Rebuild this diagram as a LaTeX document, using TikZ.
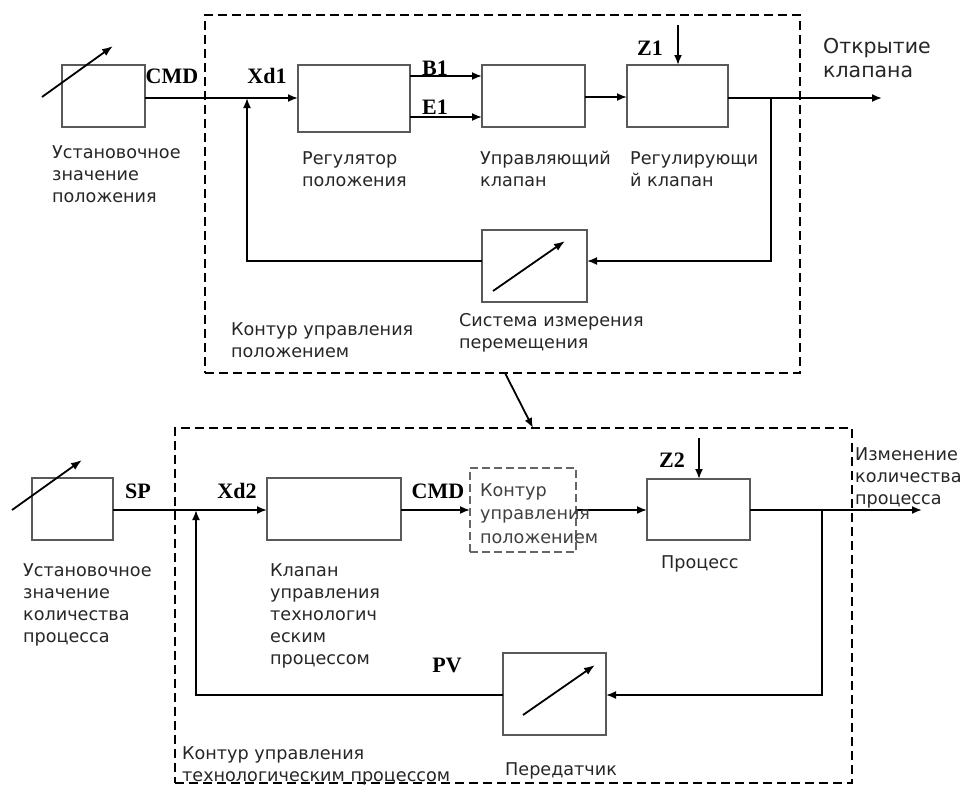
\documentclass[tikz,border=0pt]{standalone}
\usepackage{fontspec}
\setmainfont{DejaVu Sans}
\newfontfamily\labfont{Liberation Serif}
\usetikzlibrary{arrows.meta,calc}
\begin{document}
\begin{tikzpicture}[x=1pt,y=-1pt,
  blk/.style={draw=black!65, line width=2.6pt, inner sep=0, outer sep=0},
  con/.style={line width=1.8pt},
  arr/.style={con,-{Latex[length=10pt,width=8pt]}},
  darr/.style={con,-{Latex[length=11pt,width=8pt]}},
  frame/.style={draw, line width=2.6pt, dash pattern=on 9pt off 5pt, inner sep=0, outer sep=0},
  txt/.style={font=\fontsize{17.6}{22}\selectfont, text=black!85, align=left, anchor=north west, inner sep=0},
  sig/.style={font=\labfont\bfseries\fontsize{22}{22}\selectfont, inner sep=0}]
\useasboundingbox[fill=white] (0,0) rectangle (966,787);

% ---------- frames ----------
\node[frame, minimum width=595, minimum height=358] (frame1) at (502.5,194) {};
\node[frame, minimum width=677, minimum height=355] (frame2) at (513.5,605.5) {};

% ---------- top loop ----------
\node[blk, minimum width=83, minimum height=62] (sp1) at (103.5,96) {};
\node[blk, minimum width=112, minimum height=67] (reg) at (354,98.5) {};
\node[blk, minimum width=103, minimum height=62] (cv) at (533.5,96) {};
\node[blk, minimum width=101, minimum height=62] (rv) at (677.5,96) {};
\node[blk, minimum width=105, minimum height=72] (meas) at (534.5,266) {};

\coordinate (j1) at (247,98);
\coordinate (j2) at (771,98);
\coordinate (out1) at (882,98);
\coordinate (z1) at (678,25);

\draw[arr] (sp1.east |- j1) -- (reg.west |- j1);
\draw[arr] (reg.east |- 0,76) -- (cv.west |- 0,76);
\draw[arr] (reg.east |- 0,117) -- (cv.west |- 0,117);
\draw[arr] (cv.east |- 0,97) -- (rv.west |- 0,97);
\draw[arr] (z1) -- (rv.north -| z1);
\draw[arr] (rv.east |- out1) -- (out1);
\draw[arr] (j2) -- (j2 |- 0,261) -- (meas.east |- 0,261);
\draw[arr] (meas.west |- 0,261) -| (j1);

\draw[darr] (42,97) -- (113,46);
\draw[darr] (493,291) -- (565,241);

\node[sig] (cmd1) at (172,76) {CMD};
\node[sig] (xd1) at (267,76) {Xd1};
\node[sig] (b1) at (435,68) {B1};
\node[sig] (e1) at (435,107) {E1};
\node[sig] (zl1) at (650,48) {Z1};

\node[txt] (t1) at (52,145) {Установочное\\значение\\положения};
\node[txt] (t2) at (302,151) {Регулятор\\положения};
\node[txt] (t3) at (480,151) {Управляющий\\клапан};
\node[txt] (t4) at (630,151) {Регулирующи\\й клапан};
\node[txt, font=\fontsize{20.5}{24}\selectfont] (t5) at (823,38) {Открытие\\клапана};
\node[txt] (t6) at (459,313) {Система измерения\\перемещения};
\node[txt] (t7) at (231,322) {Контур управления\\положением};

% ---------- link ----------
\draw[arr] (frame1.south -| 505,0) -- (frame2.north -| 533,0);

% ---------- bottom loop ----------
\node[blk, minimum width=81, minimum height=62] (sp2) at (72.5,509) {};
\node[blk, minimum width=134, minimum height=62] (pcv) at (334,509) {};
\node[draw=black!60, line width=2.4pt, dash pattern=on 8pt off 4pt, minimum width=106, minimum height=84, inner sep=0, outer sep=0] (inner) at (523,510) {};
\node[blk, minimum width=103, minimum height=61] (proc) at (698.5,509.5) {};
\node[blk, minimum width=103, minimum height=82] (tx) at (554.5,694) {};

\coordinate (j3) at (196,510);
\coordinate (j4) at (822,510);
\coordinate (out2) at (922,510);
\coordinate (z2) at (699,438);

\draw[arr] (sp2.east |- j3) -- (pcv.west |- j3);
\draw[arr] (pcv.east |- j3) -- (inner.west |- j3);
\draw[arr] (inner.east |- j3) -- (proc.west |- j3);
\draw[arr] (z2) -- (proc.north -| z2);
\draw[arr] (proc.east |- out2) -- (out2);
\draw[arr] (j4) -- (j4 |- 0,695) -- (tx.east |- 0,695);
\draw[arr] (tx.west |- 0,695) -| (j3);

\draw[darr] (12,510) -- (82,460);
\draw[darr] (523,715) -- (595,665);

\node[sig] (spl) at (138,491) {SP};
\node[sig] (xd2) at (237,491) {Xd2};
\node[sig] (cmd2) at (438,491) {CMD};
\node[sig] (zl2) at (672,460) {Z2};
\node[sig] (pv) at (447,665) {PV};

\node[txt] (b1t) at (23,563) {Установочное\\значение\\количества\\процесса};
\node[txt] (b2t) at (270,563) {Клапан\\управления\\технологич\\еским\\процессом};
\node[txt, font=\fontsize{17.6}{23.5}\selectfont, text=black!75] (b3t) at (480,483) {Контур\\управления\\положением};
\node[txt] (b4t) at (661,555) {Процесс};
\node[txt] (b5t) at (855,447) {Изменение\\количества\\процесса};
\node[txt] (b6t) at (182,746) {Контур управления\\технологическим процессом};
\node[txt] (b7t) at (505,762) {Передатчик};
\end{tikzpicture}
\end{document}
